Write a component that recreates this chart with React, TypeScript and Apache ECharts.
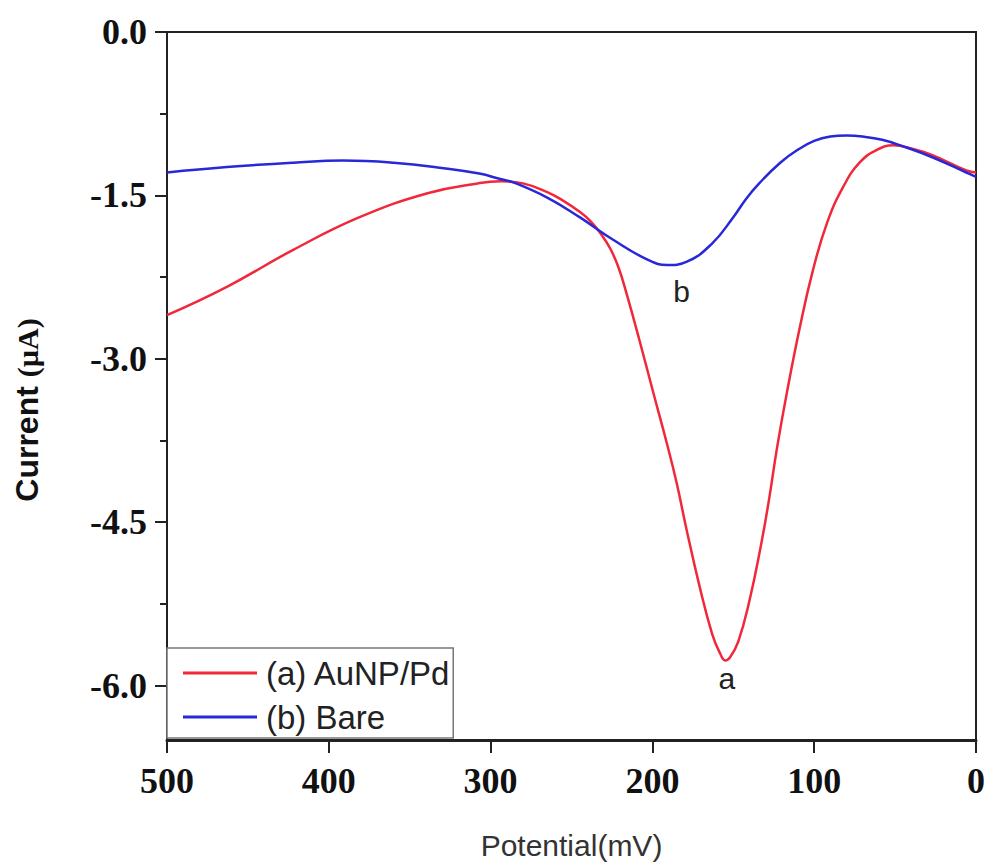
import React, { useEffect, useRef } from "react";
import * as echarts from "echarts";

// Potential (mV) and current (µA)
const potentialA = [500, 463, 422, 381, 339, 308, 294, 280, 265, 255, 245, 238, 232, 226, 221, 216, 208, 200, 191, 185, 179, 171, 163, 158, 155, 152, 147, 140, 133, 128, 123, 117, 109, 101, 92, 82, 72, 61, 51, 40, 27, 6, 0];
const currentA = [-2.60, -2.34, -2.00, -1.70, -1.48, -1.39, -1.37, -1.39, -1.47, -1.55, -1.65, -1.74, -1.85, -1.99, -2.16, -2.40, -2.83, -3.28, -3.78, -4.14, -4.56, -5.08, -5.53, -5.71, -5.77, -5.74, -5.60, -5.22, -4.72, -4.30, -3.82, -3.32, -2.72, -2.20, -1.75, -1.42, -1.20, -1.08, -1.04, -1.07, -1.13, -1.27, -1.29];

const potentialB = [500, 463, 422, 391, 360, 329, 307, 294, 286, 265, 245, 224, 203, 191, 179, 163, 150, 142, 134, 121, 110, 100, 90, 80, 70, 58, 45, 27, 6, 0];
const currentB = [-1.29, -1.24, -1.20, -1.18, -1.20, -1.25, -1.30, -1.35, -1.38, -1.52, -1.70, -1.91, -2.09, -2.14, -2.11, -1.94, -1.70, -1.53, -1.39, -1.20, -1.08, -1.00, -0.96, -0.95, -0.96, -0.99, -1.05, -1.15, -1.29, -1.33];

const seriesNames = ["(a) AuNP/Pd", "(b) Bare"];
const xTicks = [500, 400, 300, 200, 100, 0];
const yMajorTicks = [0, -1.5, -3, -4.5, -6];
const yMinorTicks = [-0.75, -2.25, -3.75, -5.25];
const peakLabels = [
  { text: "a", x: 154, y: -5.77 },
  { text: "b", x: 182, y: -2.13 },
];

export default function App() {
  const ref = useRef<HTMLDivElement>(null);

  useEffect(() => {
    document.body.style.margin = "0";
    if (!ref.current) return;
    const chart = echarts.init(ref.current, null, { renderer: "svg" });
    const serifBold = {
      fontFamily: "Liberation Serif",
      fontWeight: "bold" as const,
      fontSize: 36,
      color: "#111",
    };
    const zip = (xs: number[], ys: number[]) => xs.map((x, i) => [x, ys[i]]);

    const yAxisBase = {
      type: "value",
      position: "left",
      min: -6.5,
      max: 0,
      splitLine: { show: false },
    };

    chart.setOption({
      animation: false,
      backgroundColor: "#fff",
      grid: {
        left: 167,
        right: 9,
        top: 32,
        bottom: 123,
        containLabel: false,
        outerBoundsMode: "none",
        show: true,
        borderColor: "#222",
        borderWidth: 2,
        backgroundColor: "transparent",
      },
      legend: {
        orient: "vertical",
        left: 167,
        top: 648,
        padding: [8, 2, 4, 16],
        itemGap: 10,
        itemWidth: 74,
        itemHeight: 3,
        icon: "rect",
        backgroundColor: "#fff",
        borderColor: "#777",
        borderWidth: 1.5,
        borderRadius: 0,
        data: seriesNames,
        textStyle: {
          fontFamily: "Liberation Sans",
          fontSize: 33,
          color: "#222",
          lineHeight: 34,
          padding: [0, 0, 0, 4],
        },
      },
      xAxis: {
        type: "value",
        min: 0,
        max: 500,
        inverse: true,
        axisLabel: {
          ...serifBold,
          margin: 23,
          customValues: xTicks,
        },
        axisTick: {
          show: true,
          length: 13,
          lineStyle: { color: "#222", width: 2 },
          customValues: xTicks,
        },
        axisLine: { onZero: false, lineStyle: { color: "#222", width: 3 } },
        splitLine: { show: false },
        name: "Potential(mV)",
        nameLocation: "middle",
        nameGap: 90,
        nameTextStyle: {
          fontFamily: "Liberation Sans",
          fontSize: 30,
          color: "#333",
        },
      },
      yAxis: [
        {
          ...yAxisBase,
          axisLabel: {
            ...serifBold,
            margin: 20,
            customValues: yMajorTicks,
            formatter: (v: number) => (Math.abs(v) < 1e-9 ? "0.0" : v.toFixed(1)),
          },
          axisTick: {
            show: true,
            length: 12,
            lineStyle: { color: "#222", width: 2 },
            customValues: yMajorTicks,
          },
          axisLine: { show: true, onZero: false, lineStyle: { color: "#222", width: 2 } },
        },
        {
          ...yAxisBase,
          axisLabel: { show: false },
          axisTick: {
            show: true,
            length: 7,
            lineStyle: { color: "#222", width: 2 },
            customValues: yMinorTicks,
          },
          axisLine: { show: false, onZero: false },
        },
      ],
      graphic: [
        {
          type: "text",
          x: 27,
          y: 410,
          rotation: Math.PI / 2,
          style: {
            text: "{s|Current }{m|(µA)}",
            textAlign: "center",
            textVerticalAlign: "middle",
            rich: {
              s: {
                fontFamily: "Liberation Sans",
                fontWeight: "bold",
                fontSize: 32,
                fill: "#111",
              },
              m: {
                fontFamily: "Liberation Serif",
                fontWeight: "bold",
                fontSize: 30,
                fill: "#111",
              },
            },
          },
        },
      ],
      series: [
        {
          name: seriesNames[0],
          type: "line",
          yAxisIndex: 0,
          data: zip(potentialA, currentA),
          smooth: 0.45,
          symbol: "none",
          color: "#f0283a",
          lineStyle: { width: 2.5, color: "#f0283a" },
          markPoint: {
            symbol: "circle",
            symbolSize: 0,
            data: [
              {
                coord: [peakLabels[0].x, peakLabels[0].y],
                label: {
                  show: true,
                  formatter: peakLabels[0].text,
                  position: "bottom",
                  distance: 3,
                  fontFamily: "Liberation Sans",
                  fontSize: 30,
                  color: "#222",
                },
              },
            ],
          },
        },
        {
          name: seriesNames[1],
          type: "line",
          yAxisIndex: 0,
          data: zip(potentialB, currentB),
          smooth: 0.45,
          symbol: "none",
          color: "#2828d8",
          lineStyle: { width: 2.5, color: "#2828d8" },
          markPoint: {
            symbol: "circle",
            symbolSize: 0,
            data: [
              {
                coord: [peakLabels[1].x, peakLabels[1].y],
                label: {
                  show: true,
                  formatter: peakLabels[1].text,
                  position: "bottom",
                  distance: 12,
                  fontFamily: "Liberation Sans",
                  fontSize: 30,
                  color: "#222",
                },
              },
            ],
          },
        },
      ],
    });
    return () => chart.dispose();
  }, []);

  return (
    <div
      ref={ref}
      style={{ position: "fixed", left: 0, top: 0, width: 985, height: 863 }}
    />
  );
}
